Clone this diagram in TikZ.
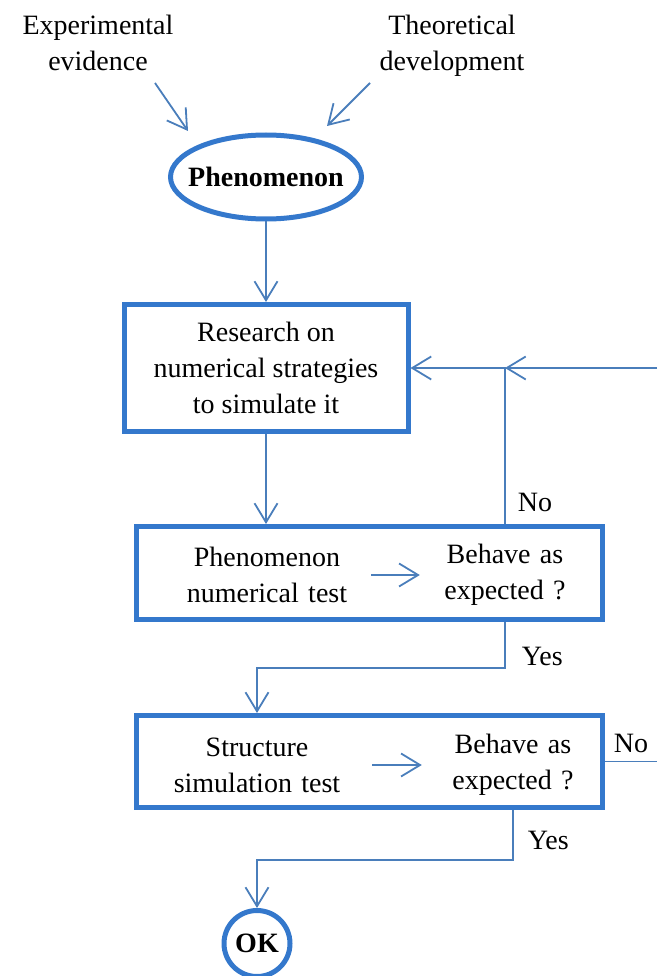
\documentclass[tikz,border=0pt]{standalone}
\usepackage{fontspec}
\setmainfont{Liberation Serif}
\usetikzlibrary{arrows.meta,positioning,shapes.geometric}
\definecolor{fcblue}{HTML}{3478CC}
\definecolor{fcline}{HTML}{4A7EBB}

\begin{document}
\begin{tikzpicture}[
  x=1pt, y=-1pt,
  font=\fontsize{28pt}{36pt}\selectfont,
  >={Straight Barb[length=19pt,width=23pt]},
  stage/.style={draw=fcblue, line width=5pt, inner sep=0pt, align=center},
  oval/.style={draw=fcblue, line width=5pt, inner sep=0pt,
    font=\fontsize{28pt}{36pt}\selectfont\bfseries},
  txt/.style={inner sep=0pt, align=center},
  flow/.style={draw=fcline, line width=1.8pt, ->},
  wire/.style={draw=fcline, line width=1.8pt},
  lab/.style={inner sep=0pt}
]

\useasboundingbox (0,0) rectangle (657,976);

\node[txt] (expe) at (98,43) {Experimental\\evidence};
\node[txt] (theo) at (452,46) {Theoretical\\development};
\node[oval, ellipse, inner xsep=-11pt, minimum width=191pt, minimum height=84pt] (phen)
  at (266,177) {Phenomenon};

\coordinate (expe-a) at (155,83);
\coordinate (expe-b) at (188,131);
\coordinate (theo-a) at (370,83);
\coordinate (theo-b) at (327,126);
\draw[flow] (expe-a) -- (expe-b);
\draw[flow] (theo-a) -- (theo-b);

\node[stage, minimum width=284pt, minimum height=127pt] (res) at (266,368)
  {Research on\\numerical strategies\\to simulate it};
\draw[flow] (phen) -- (res);

% phenomenon test
\node[stage, minimum width=466pt, minimum height=93pt] (numtest) at (369.5,573) {};
\node[txt, text width=208pt] (numtxt) at (267,575) {Phenomenon\\numerical test};
\node[txt, text width=170pt] (numq) at (505,575) {Behave as\\expected ?};
\draw[flow] (numtxt) -- (numq);
\draw[flow] (res.south) -- (res.south |- numtest.north);

% structure test
\node[stage, minimum width=466pt, minimum height=92pt] (simtest) at (369.5,761.5) {};
\node[txt, text width=230pt] (simtxt) at (257,765) {Structure\\simulation test};
\node[txt, text width=182pt] (simq) at (513,765) {Behave as\\expected ?};
\draw[flow] (simtxt) -- (simq);

\node[oval, circle, minimum size=66pt] (ok) at (257,943.5) {OK};

% loops
\coordinate (loopin) at (657,368);
\coordinate (loopout) at (657,761.5);
\draw[flow] (numq |- numtest.north) |- node[lab, pos=0.07, right=12pt] {No} (res.east);
\draw[flow] (loopin) -- (numq |- loopin);
\draw[flow] (numq |- numtest.south) -- node[lab, pos=0.75, right=16pt] {Yes} ++(0,46)
  -| (simtxt |- simtest.north);
\draw[wire] (simtest.east) -- node[lab, above=8pt] {No} (loopout);
\draw[flow] (simq |- simtest.south) -- node[lab, pos=0.6, right=14pt] {Yes} ++(0,50)
  -| (ok);

\end{tikzpicture}
\end{document}
